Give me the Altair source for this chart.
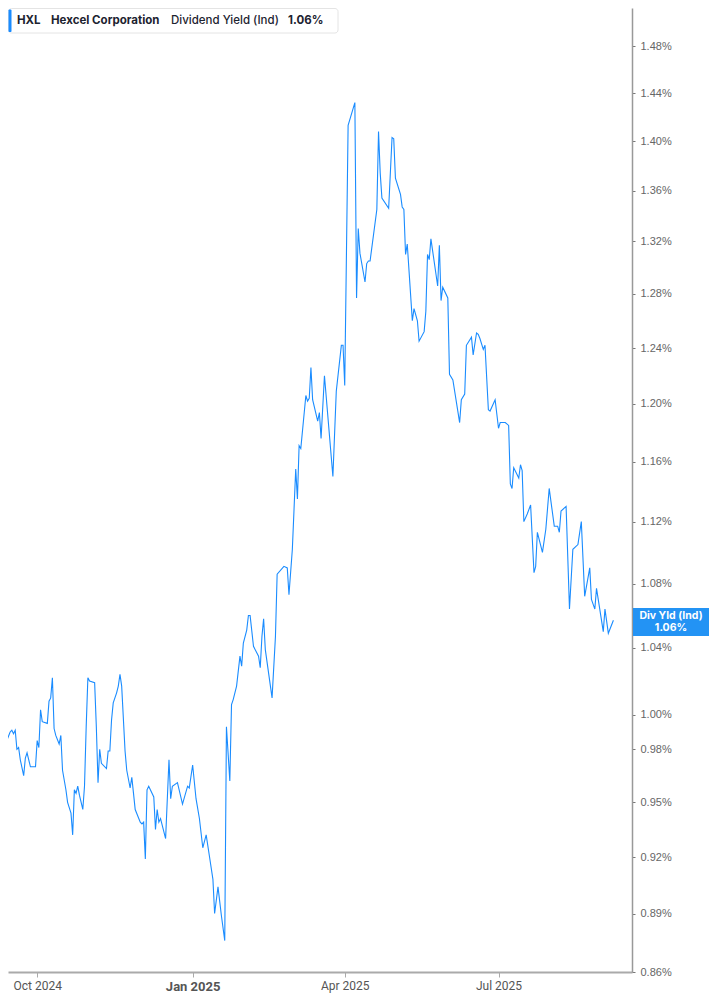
import altair as alt
import pandas as pd

# ---- data ----
dates = [
    "2024-09-09", "2024-09-10", "2024-09-11", "2024-09-12", "2024-09-13", "2024-09-15", "2024-09-16",
    "2024-09-17", "2024-09-18", "2024-09-19", "2024-09-20", "2024-09-21", "2024-09-23", "2024-09-24",
    "2024-09-25", "2024-09-27", "2024-09-30",
    "2024-10-01", "2024-10-02", "2024-10-03", "2024-10-04", "2024-10-07", "2024-10-08", "2024-10-09",
    "2024-10-10", "2024-10-11", "2024-10-12", "2024-10-14", "2024-10-15", "2024-10-16", "2024-10-18",
    "2024-10-19", "2024-10-21", "2024-10-22", "2024-10-23", "2024-10-24", "2024-10-25", "2024-10-26",
    "2024-10-28", "2024-10-29", "2024-10-30", "2024-10-31",
    "2024-11-01", "2024-11-04", "2024-11-05", "2024-11-06", "2024-11-07", "2024-11-08", "2024-11-11",
    "2024-11-12", "2024-11-13", "2024-11-14", "2024-11-15", "2024-11-17", "2024-11-18", "2024-11-19",
    "2024-11-20", "2024-11-22", "2024-11-23", "2024-11-25", "2024-11-26", "2024-11-27", "2024-11-28",
    "2024-12-01", "2024-12-02", "2024-12-03", "2024-12-04", "2024-12-05", "2024-12-06", "2024-12-09",
    "2024-12-10", "2024-12-11", "2024-12-12", "2024-12-13", "2024-12-16", "2024-12-18", "2024-12-19",
    "2024-12-20", "2024-12-23", "2024-12-26", "2024-12-29", "2024-12-30",
    "2025-01-01", "2025-01-03", "2025-01-05", "2025-01-07", "2025-01-09", "2025-01-11", "2025-01-13",
    "2025-01-14", "2025-01-16", "2025-01-18", "2025-01-20", "2025-01-21", "2025-01-23", "2025-01-24",
    "2025-01-25", "2025-01-27", "2025-01-29", "2025-01-30", "2025-01-31",
    "2025-02-02", "2025-02-03", "2025-02-04", "2025-02-06", "2025-02-09", "2025-02-10", "2025-02-11",
    "2025-02-12", "2025-02-13", "2025-02-17", "2025-02-19", "2025-02-20", "2025-02-24", "2025-02-26",
    "2025-02-27",
    "2025-03-01", "2025-03-03", "2025-03-04", "2025-03-05", "2025-03-06", "2025-03-09", "2025-03-10",
    "2025-03-11", "2025-03-12", "2025-03-13", "2025-03-16", "2025-03-17", "2025-03-18", "2025-03-20",
    "2025-03-25", "2025-03-27", "2025-03-30", "2025-03-31",
    "2025-04-01", "2025-04-03", "2025-04-07", "2025-04-08", "2025-04-09", "2025-04-10", "2025-04-13",
    "2025-04-14", "2025-04-15", "2025-04-16", "2025-04-20", "2025-04-21", "2025-04-22", "2025-04-23",
    "2025-04-27", "2025-04-29", "2025-04-30",
    "2025-05-01", "2025-05-04", "2025-05-05", "2025-05-06", "2025-05-07", "2025-05-08", "2025-05-11",
    "2025-05-12", "2025-05-14", "2025-05-15", "2025-05-18", "2025-05-19", "2025-05-20", "2025-05-21",
    "2025-05-22", "2025-05-26", "2025-05-27", "2025-05-28", "2025-05-29",
    "2025-06-01", "2025-06-02", "2025-06-04", "2025-06-08", "2025-06-09", "2025-06-11", "2025-06-12",
    "2025-06-15", "2025-06-16", "2025-06-18", "2025-06-19", "2025-06-20", "2025-06-22", "2025-06-23",
    "2025-06-25", "2025-06-26", "2025-06-29",
    "2025-07-01", "2025-07-02", "2025-07-05", "2025-07-07", "2025-07-08", "2025-07-09", "2025-07-10",
    "2025-07-13", "2025-07-14", "2025-07-15", "2025-07-16", "2025-07-18", "2025-07-20", "2025-07-22",
    "2025-07-23", "2025-07-24", "2025-07-27", "2025-07-29", "2025-07-31",
    "2025-08-03", "2025-08-05", "2025-08-06", "2025-08-07", "2025-08-10", "2025-08-12", "2025-08-14",
    "2025-08-17", "2025-08-19", "2025-08-21", "2025-08-24", "2025-08-25", "2025-08-27", "2025-08-28",
    "2025-09-01", "2025-09-02", "2025-09-04", "2025-09-07",
]

div_yield = [
    0.992, 0.985, 0.984, 0.978, 0.985, 0.990, 0.991, 0.989, 0.991, 0.980, 0.981, 0.974, 0.965, 0.975,
    0.978, 0.970, 0.970,
    0.985, 0.981, 1.003, 0.996, 0.995, 1.008, 1.010, 1.022, 0.992, 0.988, 0.983, 0.988, 0.968, 0.957,
    0.950, 0.944, 0.932, 0.957, 0.955, 0.959, 0.954, 0.946, 0.959, 0.993, 1.022,
    1.020, 1.019, 0.993, 0.961, 0.980, 0.972, 0.969, 0.979, 0.979, 0.997, 1.007, 1.013, 1.017, 1.024,
    1.017, 0.979, 0.968, 0.958, 0.964, 0.955, 0.946,
    0.939, 0.938, 0.939, 0.919, 0.957, 0.959, 0.953, 0.935, 0.946, 0.939, 0.941, 0.930, 0.974, 0.952,
    0.959, 0.961, 0.949, 0.959, 0.958,
    0.971, 0.952, 0.941, 0.925, 0.932, 0.920, 0.908, 0.890, 0.904, 0.889, 0.876, 0.993, 0.962, 1.006,
    1.009, 1.017, 1.035, 1.029, 1.043,
    1.051, 1.060, 1.060, 1.041, 1.035, 1.028, 1.047, 1.058, 1.039, 1.010, 1.047, 1.086, 1.091, 1.090,
    1.073,
    1.102, 1.155, 1.135, 1.171, 1.169, 1.206, 1.202, 1.204, 1.226, 1.203, 1.188, 1.194, 1.176, 1.220,
    1.150, 1.209, 1.242, 1.242,
    1.213, 1.413, 1.432, 1.277, 1.330, 1.311, 1.289, 1.303, 1.305, 1.305, 1.345, 1.408, 1.374, 1.354,
    1.346, 1.403, 1.402,
    1.370, 1.357, 1.347, 1.345, 1.310, 1.318, 1.260, 1.269, 1.260, 1.245, 1.252, 1.267, 1.310, 1.306,
    1.322, 1.286, 1.317, 1.275, 1.285,
    1.277, 1.221, 1.217, 1.187, 1.203, 1.207, 1.242, 1.248, 1.235, 1.251, 1.250, 1.247, 1.239, 1.242,
    1.196, 1.195, 1.203,
    1.183, 1.187, 1.187, 1.185, 1.145, 1.142, 1.156, 1.149, 1.158, 1.154, 1.120, 1.125, 1.131, 1.087,
    1.091, 1.113, 1.100, 1.115, 1.142,
    1.117, 1.117, 1.113, 1.127, 1.130, 1.064, 1.102, 1.105, 1.120, 1.072, 1.090, 1.070, 1.064, 1.077,
    1.050, 1.064, 1.049, 1.057,
]

y_tick_values = [0.86, 0.89, 0.92, 0.95, 0.98, 1.00, 1.04, 1.08, 1.12, 1.16, 1.20, 1.24,
                 1.28, 1.32, 1.36, 1.40, 1.44, 1.48, 1.52]
x_tick_months = [(2024, 10), (2025, 1), (2025, 4), (2025, 7)]

ticker = "HXL"
company = "Hexcel Corporation"
metric = "Dividend Yield (Ind)"
last_label = "1.06%"
badge_title = "Div Yld (Ind)"

BLUE = "#1a8cff"
W, H = 624, 964

df = pd.DataFrame({"date": dates, "yield": div_yield})

x_ticks = [alt.DateTime(year=y, month=m, date=1, utc=True) for y, m in x_tick_months]

line = alt.Chart(df).mark_line(color=BLUE, strokeWidth=1.1, clip=True).encode(
    x=alt.X(
        "date:T",
        scale=alt.Scale(
            type="utc",
            domain=[alt.DateTime(year=2024, month=9, date=13, hours=17, minutes=30, utc=True),
                    alt.DateTime(year=2025, month=9, date=18, utc=True)],
        ),
        axis=alt.Axis(
            values=x_ticks, format="%b %Y", title=None, grid=False,
            domainColor="#aaaaaa", domainWidth=2, tickColor="#aaaaaa", tickSize=5, tickWidth=1,
            labelFont="Roboto", labelColor="#555555", labelPadding=3,
            labelFontSize={"expr": "utcmonth(datum.value) == 0 ? 13 : 12"},
            labelFontWeight={"expr": "utcmonth(datum.value) == 0 ? 'bold' : 'normal'"},
        ),
    ),
    y=alt.Y(
        "yield:Q",
        scale=alt.Scale(type="log", domain=[0.86, 1.5137], nice=False, zero=False),
        axis=alt.Axis(
            orient="right", values=y_tick_values, title=None, grid=False,
            labelExpr="format(datum.value, '.2f') + '%'",
            domainColor="#999999", domainWidth=1.5, tickColor="#777777", tickSize=3,
            labelFont="Liberation Sans", labelFontSize=11, labelColor="#666666", labelPadding=5,
        ),
    ),
)

one = alt.Data(values=[{"k": 1}])

legend_box = alt.Chart(one).mark_rect(fill="white", stroke="#e4e4e4", strokeWidth=1, cornerRadius=3).encode(
    x=alt.value(0.5), x2=alt.value(330), y=alt.value(0.5), y2=alt.value(25)
)
legend_bar = alt.Chart(one).mark_rect(fill=BLUE, cornerRadius=1).encode(
    x=alt.value(0.5), x2=alt.value(3.5), y=alt.value(1.5), y2=alt.value(24)
)

def legend_text(txt, x, weight):
    return alt.Chart(one).mark_text(
        align="left", baseline="middle", font="Inter", fontSize=11.5, fontWeight=weight, color="#1d2330"
    ).encode(x=alt.value(x), y=alt.value(12.5), text=alt.value(txt))

t1 = legend_text(ticker, 9, "bold")
t2 = legend_text(company, 43, "bold")
t3 = legend_text(metric, 163, 500)
t4 = legend_text(last_label, 280, "bold")

badge = alt.Chart(one).mark_rect(fill="#2393f4").encode(
    x=alt.value(W + 1), x2=alt.value(W + 77), y=alt.value(600), y2=alt.value(628)
)
badge_t1 = alt.Chart(one).mark_text(
    align="center", baseline="middle", font="Inter", fontSize=10.5, fontWeight="bold", color="white"
).encode(x=alt.value(W + 39), y=alt.value(607.8), text=alt.value(badge_title))
badge_t2 = alt.Chart(one).mark_text(
    align="center", baseline="middle", font="Inter", fontSize=10.5, fontWeight="bold", color="white"
).encode(x=alt.value(W + 39), y=alt.value(620.3), text=alt.value(last_label))

chart = alt.layer(
    line, legend_box, legend_bar, t1, t2, t3, t4, badge, badge_t1, badge_t2
).properties(
    width=W, height=H,
    autosize=alt.AutoSizeParams(type="none"),
    padding={"left": 0, "top": 0, "right": 77, "bottom": 22},
    background="white",
).configure_view(strokeWidth=0)

chart.save("out.html", embed_options={"renderer": "svg", "actions": False})
